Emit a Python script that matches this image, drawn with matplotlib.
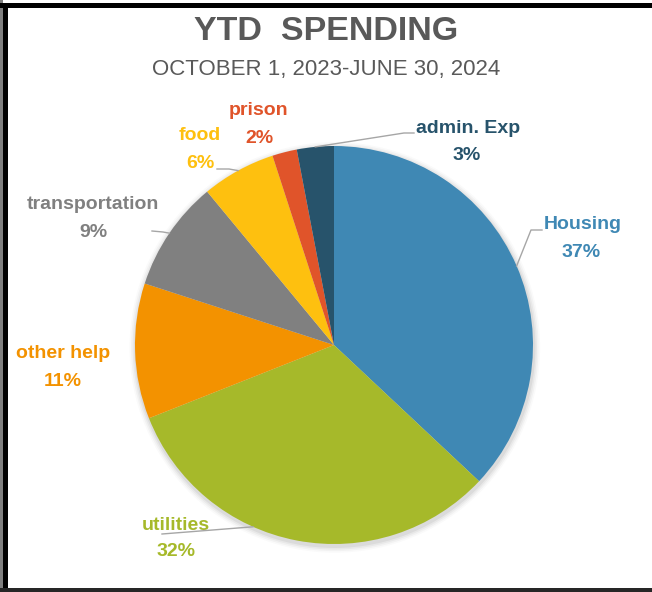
import matplotlib
matplotlib.use("Agg")
import matplotlib.pyplot as plt
import numpy as np
from matplotlib.patches import Circle, Rectangle

categories = ["Housing", "utilities", "other help", "transportation", "food", "prison", "admin. Exp"]
values = [37, 32, 11, 9, 6, 2, 3]
colors = ["#3F88B4", "#A6B92A", "#F39200", "#808080", "#FEC00F", "#E0542A", "#27536B"]

W, H = 652, 592
CX, CY, R = 334, 345, 199
FONT = ["Liberation Sans", "DejaVu Sans"]


def px(x, y):
    """pixel (from top-left) -> data coords of the pie axes"""
    return (x - CX) / R, (CY - y) / R


def frame_bar(x0, y0, x1, y1, color):
    """rectangle in pixel coords (top-left origin) on the figure"""
    fig.add_artist(Rectangle((x0 / W, 1 - y1 / H), (x1 - x0) / W, (y1 - y0) / H,
                             transform=fig.transFigure, color=color, lw=0, zorder=10))


fig = plt.figure(figsize=(W / 100, H / 100), dpi=100)
ax = fig.add_axes([(CX - R) / W, (H - CY - R) / H, 2 * R / W, 2 * R / H])

# soft shadow
for k, a in enumerate([0.05, 0.04, 0.03, 0.02]):
    ax.add_patch(Circle((0.004, -0.012), 1 + 0.008 * (k + 1), color="black", alpha=a,
                        lw=0, zorder=0, clip_on=False))

wedges, _ = ax.pie(values, colors=colors, startangle=90, counterclock=False,
                   radius=1, wedgeprops=dict(linewidth=0, zorder=1))
ax.set_xlim(-1, 1)
ax.set_ylim(-1, 1)
ax.set_aspect("equal")
ax.axis("off")

# label positions (pixel centres of the two text lines)
label_pos = {
    "Housing": (583, 224, 581, 252),
    "utilities": (176, 525, 176, 552),
    "other help": (63, 354, 63, 381),
    "transportation": (93, 204, 93, 232),
    "food": (200, 135, 200, 163),
    "prison": (259, 110, 259, 138),
    "admin. Exp": (468, 128, 467, 155),
}
for name, val, col in zip(categories, values, colors):
    x1, y1, x2, y2 = label_pos[name]
    ax.text(*px(x1, y1), name, color=col, fontsize=14, fontweight="bold",
            ha="center", va="center", family=FONT, clip_on=False)
    ax.text(*px(x2, y2), f"{val}%", color=col, fontsize=14, fontweight="bold",
            ha="center", va="center", family=FONT, clip_on=False)

# leader lines: from slice edge to label
leaders = {
    "Housing": [(531, 230), (542, 230)],
    "admin. Exp": [(404, 133), (414, 133)],
    "food": [(229, 169), (217, 169)],
    "transportation": [(163, 232), (152, 231)],
    "utilities": [(162, 534)],
}
edge_angle = {"utilities": -114}
for w, name in zip(wedges, categories):
    if name not in leaders:
        continue
    ang = np.deg2rad(edge_angle.get(name, (w.theta1 + w.theta2) / 2))
    pts = [(np.cos(ang), np.sin(ang))] + [px(*p) for p in leaders[name]]
    xs, ys = zip(*pts)
    ax.plot(xs, ys, color="#A6A6A6", lw=1.0, clip_on=False, zorder=3)

fig.text(0.5, 1 - 32 / H, "YTD  SPENDING", ha="center", va="center", fontsize=24.5,
         fontweight="bold", color="#595959", family=FONT)
fig.text(0.5, 1 - 70 / H, "OCTOBER 1, 2023-JUNE 30, 2024", ha="center", va="center",
         fontsize=16, color="#595959", family=FONT)

# frame
frame_bar(0, 0, 3, H, "#7F7F7F")
frame_bar(3, 3, 8, H, "black")
frame_bar(0, 3, W, 8, "black")
frame_bar(0, 588, W, H, "#262626")

fig.savefig("out.png", dpi=100)
